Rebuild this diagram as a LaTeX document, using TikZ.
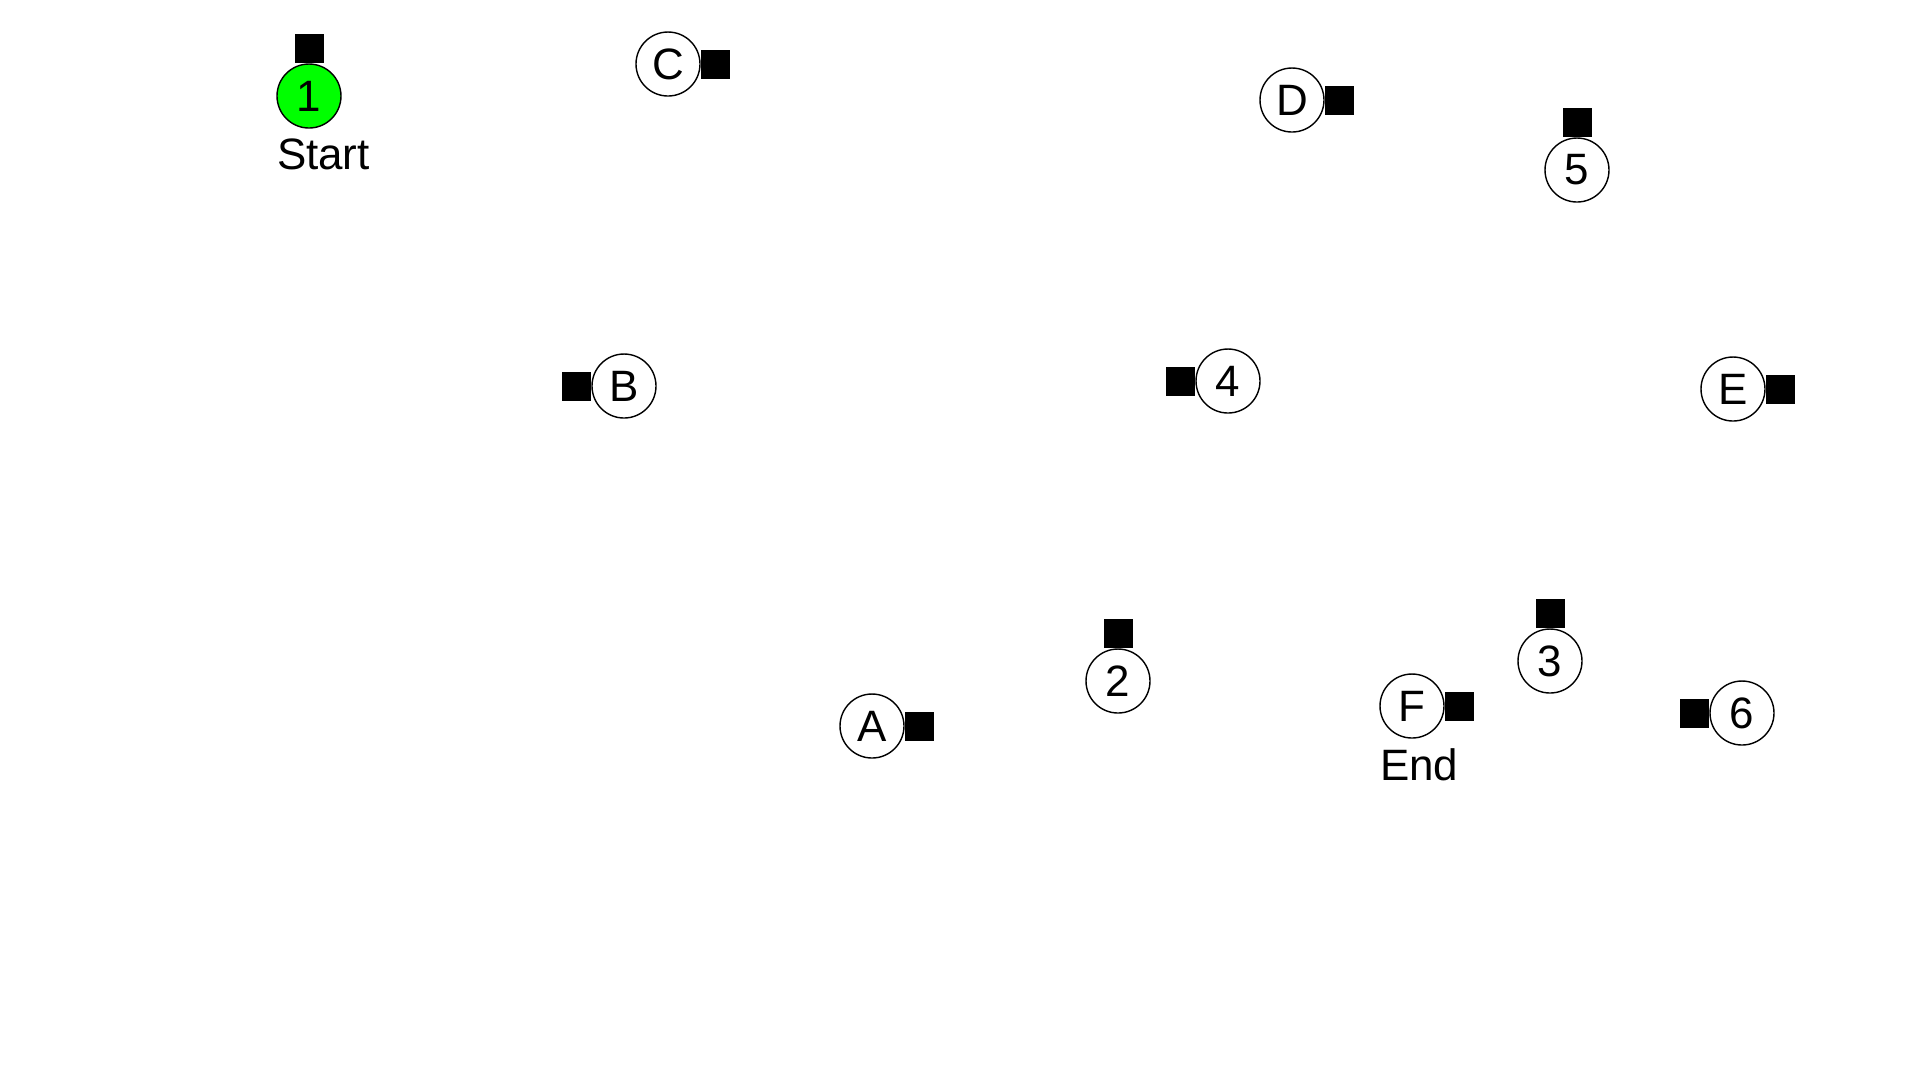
\documentclass[tikz,border=0pt]{standalone}
\usepackage{fontspec}
\setmainfont{Liberation Sans}
\usetikzlibrary{positioning}
\definecolor{startgreen}{HTML}{00FF00}
\tikzset{
  stop/.style={circle,draw=black,line width=0.4pt,fill=white,minimum size=0.64cm,inner sep=0pt,font=\fontsize{12.5}{15}\selectfont},
  port/.style={rectangle,fill=black,minimum size=0.29cm,inner sep=0pt,outer sep=0pt},
  tag/.style={anchor=north west,inner xsep=0pt,inner ysep=0.09cm,font=\fontsize{12.5}{15}\selectfont}
}

\begin{document}
\begin{tikzpicture}[x=0.1mm,y=-0.1mm]
\useasboundingbox (0,0) rectangle (1920,1080);
% numbered stops
\node[stop,fill=startgreen] (n1) at (309,96) {1};
\node[stop] (n2) at (1118,681) {2};
\node[stop] (n3) at (1550,661) {3};
\node[stop] (n4) at (1228,381) {4};
\node[stop] (n5) at (1577,170) {5};
\node[stop] (n6) at (1742,713) {6};
% lettered stops
\node[stop] (nA) at (872,726) {A};
\node[stop] (nB) at (624,386) {B};
\node[stop] (nC) at (668,64) {C};
\node[stop] (nD) at (1292,100) {D};
\node[stop] (nE) at (1733,389) {E};
\node[stop] (nF) at (1412,706) {F};
% ports
\node[port,above=0pt of n1] (sq1) {};
\node[port,above=0pt of n2] (sq2) {};
\node[port,above=0pt of n3] (sq3) {};
\node[port,left=0pt of n4] (sq4) {};
\node[port,above=0pt of n5] (sq5) {};
\node[port,left=0pt of n6] (sq6) {};
\node[port,right=0pt of nA] (sqA) {};
\node[port,left=0pt of nB] (sqB) {};
\node[port,right=0pt of nC] (sqC) {};
\node[port,right=0pt of nD] (sqD) {};
\node[port,right=0pt of nE] (sqE) {};
\node[port,right=0pt of nF] (sqF) {};
% start / end
\node[tag] (startlbl) at (n1.south -| n1.west) {Start};
\node[tag] (endlbl) at (nF.south -| nF.west) {End};
\end{tikzpicture}
\end{document}
